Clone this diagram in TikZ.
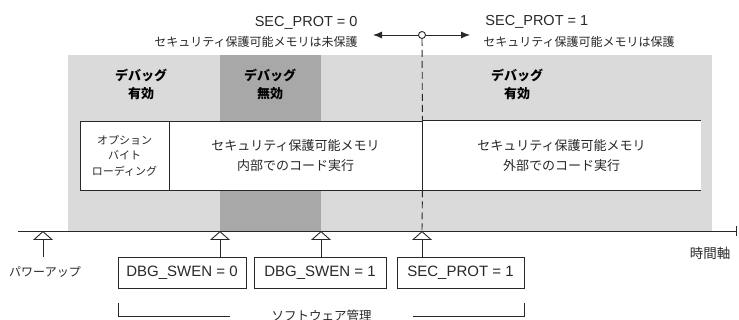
\documentclass[tikz,border=0pt]{standalone}
\usepackage{fontspec}
\setmainfont{Liberation Sans}
\newfontfamily\jp{Noto Sans CJK JP}
\usetikzlibrary{arrows.meta}
\definecolor{lg}{RGB}{218,218,218}
\definecolor{dg}{RGB}{168,168,168}
\definecolor{ln}{RGB}{40,40,40}
\begin{document}
\begin{tikzpicture}[x=1pt,y=-1pt,
  line width=0.9pt, color=ln,
  head/.style={align=center, inner sep=0pt, text=black, font=\jp\bfseries\fontsize{13}{18}\selectfont},
  box/.style={draw=ln, fill=white, align=center, inner sep=0pt, minimum height=69pt},
  boxtxt/.style={font=\jp\fontsize{13}{20}\selectfont},
  tbox/.style={draw=ln, fill=white, inner sep=0pt, minimum height=31pt, font=\fontsize{15}{17}\selectfont},
  jlab/.style={inner sep=0pt, font=\jp\fontsize{12}{15}\selectfont},
  llab/.style={inner sep=0pt, font=\fontsize{14.5}{17}\selectfont},
  tri/.style={-{Triangle[open,width=20pt,length=9pt,line width=0.9pt]}}]
\useasboundingbox (0,0) rectangle (739,320);
% shaded regions
\fill[lg] (68,55) rectangle (712,231);
\fill[dg] (220,55) rectangle (321,231);
% headings
\node[head] (h1) at (141,84) {デバッグ\\有効};
\node[head] (h2) at (270,84) {デバッグ\\無効};
\node[head] (h3) at (517,84) {デバッグ\\有効};
% boxes
\node[box, minimum width=89pt, font=\jp\fontsize{11}{15.5}\selectfont] (opt) at (124.5,155.5) {オプション\\バイト\\ローディング};
\node[box, boxtxt, minimum width=253pt] (int) at (295.5,155.5) {セキュリティ保護可能メモリ\\内部でのコード実行};
\node[box, boxtxt, draw=none, minimum width=279pt] (ext) at (561.5,155.5) {セキュリティ保護可能メモリ\\外部でのコード実行};
\draw (ext.north west) -- (ext.north east);
\draw (ext.south west) -- (ext.south east);
\draw (int.north east) -- (int.south east);
% top labels
\node[llab, anchor=east] (l0a) at (358,23) {SEC\_PROT = 0};
\node[jlab, anchor=east] (l0b) at (358,42) {セキュリティ保護可能メモリは未保護};
\node[llab, anchor=west] (l1a) at (485,22) {SEC\_PROT = 1};
\node[jlab, anchor=west] (l1b) at (483,42) {セキュリティ保護可能メモリは保護};
% switch marker
\node[circle, draw=ln, fill=white, inner sep=0pt, minimum size=7pt] (c) at (422,35) {};
\coordinate (la) at (373,35);
\coordinate (ra) at (470,35);
\draw[-{Latex[length=9pt,width=7pt]}] (c) -- (la);
\draw[-{Latex[length=9pt,width=7pt]}] (c) -- (ra);
% time axis
\coordinate (ax0) at (18,231);
\coordinate (ax1) at (737,231);
\draw[-{Bar[width=10pt]}] (ax0) -- (ax1);
\coordinate (p0) at (43,231);
\coordinate (p1) at (220,231);
\coordinate (p2) at (321,231);
\coordinate (p3) at (422,231);
\draw[dash pattern=on 7pt off 4pt] (c) -- (int.north east);
\draw[dash pattern=on 7pt off 4pt] (int.south east) -- (p3);
\node[jlab, font=\jp\fontsize{13.5}{15}\selectfont] (axl) at (710,253) {時間軸};
% triggers
\node[tbox, minimum width=128pt] (b1) at (182,272.5) {DBG\_SWEN = 0};
\node[tbox, minimum width=132pt] (b2) at (320,272.5) {DBG\_SWEN = 1};
\node[tbox, minimum width=127pt] (b3) at (460.5,272.5) {SEC\_PROT = 1};
\coordinate (s0) at (43,257);
\node[jlab] (pw) at (45,272) {パワーアップ};
\draw[tri] (s0) -- (p0);
\draw[tri] (b1.north -| p1) -- (p1);
\draw[tri] (b2.north -| p2) -- (p2);
\draw[tri] (b3.north -| p3) -- (p3);
% bracket
\coordinate (bl) at (118,303);
\coordinate (br) at (524,303);
\node[jlab, font=\jp\fontsize{12.5}{15}\selectfont, minimum width=183pt] (sw) at (321.5,316) {ソフトウェア管理};
\draw (bl) |- (sw.west);
\draw (br) |- (sw.east);
\end{tikzpicture}
\end{document}
